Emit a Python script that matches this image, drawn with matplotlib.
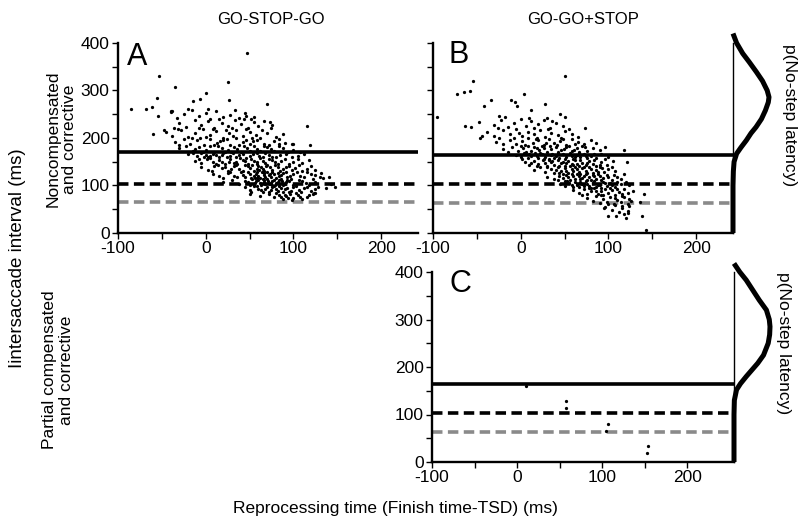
import matplotlib
matplotlib.use("Agg")
import matplotlib.pyplot as plt

plt.rcParams['font.family'] = ['Liberation Sans', 'DejaVu Sans']

# ---------------- data ----------------
col_titles = ["GO-STOP-GO", "GO-GO+STOP"]
row_labels = ["Noncompensated\nand corrective", "Partial compensated\nand corrective"]
panel_letters = ["A", "B", "C"]
x_ticks = [-100, 0, 100, 200]
y_ticks = [0, 100, 200, 300, 400]

# horizontal reference lines (solid, black dashed, grey dashed)
a_lines = [171, 104, 65]
b_lines = [164, 104, 64]
c_lines = [164, 103, 63]

a_points = [
    (-85, 262), (-68, 261), (-61, 265), (-53, 330), (-55, 285), (-35, 307), (-54, 247), (-60, 208),
    (-47, 217), (-40, 257), (-38, 257), (-15, 278), (-6, 282), (0, 295), (25, 318), (27, 281),
    (47, 378), (70, 272), (46, 247), (52, 239), (116, 225), (119, 185), (73, 233), (74, 221),
    (98, 188), (84, 188), (140, 117), (134, 115), (147, 97), (143, 104), (137, 95), (131, 127),
    (-40, 255), (-33, 243), (-25, 250), (-16, 258), (-8, 246), (0, 252), (5, 241), (12, 256),
    (20, 244), (28, 249), (38, 242), (45, 253), (55, 245), (-20, 262), (3, 260), (33, 258),
    (-30, 232), (-22, 224), (-12, 238), (-5, 227), (3, 235), (10, 222), (18, 231), (25, 226),
    (33, 237), (40, 229), (48, 221), (55, 234), (60, 226), (75, 228), (-36, 221), (-8, 220),
    (15, 239), (30, 221), (44, 240), (66, 236),
    (-45, 212), (-38, 205), (-28, 216), (-20, 203), (-12, 210), (-3, 218), (5, 207), (12, 214),
    (20, 201), (27, 211), (35, 217), (42, 204), (50, 213), (57, 207), (64, 216), (80, 203),
    (-32, 219), (-16, 200), (0, 203), (8, 219), (23, 217), (31, 205), (46, 218), (53, 201),
    (70, 210), (88, 208),
    (-35, 192), (-25, 198), (-18, 188), (-10, 195), (-2, 186), (5, 197), (13, 190), (20, 195),
    (28, 186), (35, 199), (42, 191), (50, 188), (58, 196), (66, 187), (78, 193), (90, 190),
    (-30, 186), (-6, 199), (10, 185), (24, 198), (38, 185), (46, 196), (62, 199), (72, 185),
    (84, 198), (100, 187), (16, 193), (54, 193),
    (-30, 178), (-15, 172), (-8, 181), (0, 175), (5, 183), (10, 171), (18, 179), (25, 174),
    (32, 182), (40, 171), (47, 178), (55, 184), (62, 173), (70, 180), (78, 172), (88, 179),
    (100, 175), (108, 170), (-22, 184), (-3, 170), (14, 184), (22, 170), (36, 177), (44, 184),
    (51, 172), (58, 177), (66, 183), (74, 176), (83, 184), (94, 171), (-12, 176), (29, 171),
    (-20, 166), (-10, 162), (-5, 168), (0, 164), (3, 159), (8, 167), (15, 161), (20, 168),
    (28, 163), (35, 160), (42, 166), (50, 162), (58, 169), (65, 160), (72, 165), (80, 161),
    (92, 167), (105, 163), (-2, 160), (12, 165), (24, 159), (31, 168), (38, 164), (46, 158),
    (54, 166), (61, 163), (68, 168), (76, 159), (85, 165), (98, 160), (112, 166), (-14, 169),
    (5, 163), (18, 164),
    (-12, 152), (-5, 147), (2, 155), (8, 149), (15, 153), (22, 146), (28, 156), (35, 150),
    (42, 154), (48, 146), (55, 151), (62, 157), (68, 148), (75, 153), (82, 146), (90, 155),
    (100, 150), (110, 147), (118, 153), (5, 157), (12, 145), (19, 150), (26, 149), (32, 147),
    (39, 157), (45, 151), (52, 155), (58, 145), (65, 152), (72, 156), (79, 149), (86, 152),
    (95, 146), (105, 156), (-8, 156), (58, 150), (36, 145),
    (-5, 138), (3, 133), (10, 142), (18, 136), (25, 131), (32, 140), (38, 134), (45, 143),
    (50, 137), (55, 131), (60, 141), (65, 135), (70, 144), (76, 132), (82, 139), (88, 134),
    (95, 142), (102, 136), (110, 131), (120, 140), (7, 131), (14, 144), (22, 139), (29, 135),
    (35, 144), (42, 130), (48, 140), (53, 144), (58, 134), (63, 139), (67, 130), (73, 138),
    (79, 143), (85, 131), (91, 139), (98, 132), (106, 144), (115, 135), (125, 132), (61, 133),
    (69, 140),
    (8, 124), (15, 119), (25, 127), (32, 121), (40, 128), (45, 117), (50, 125), (55, 120),
    (58, 129), (62, 116), (66, 123), (70, 128), (74, 118), (78, 125), (83, 121), (88, 127),
    (93, 117), (100, 124), (108, 119), (115, 128), (125, 122), (20, 116), (28, 129), (36, 118),
    (43, 123), (48, 129), (52, 116), (57, 124), (60, 120), (64, 128), (68, 117), (72, 122),
    (76, 129), (80, 116), (86, 123), (91, 128), (96, 120), (104, 129), (112, 117), (120, 125),
    (130, 118), (56, 115), (67, 126), (73, 125), (82, 126),
    (20, 108), (30, 112), (38, 104), (45, 110), (50, 102), (53, 113), (56, 106), (60, 111),
    (63, 101), (66, 108), (70, 114), (73, 103), (76, 109), (80, 105), (84, 112), (88, 101),
    (92, 107), (97, 113), (103, 104), (110, 110), (118, 102), (125, 108), (48, 107), (55, 100),
    (58, 115), (62, 105), (65, 113), (68, 104), (71, 109), (75, 100), (78, 112), (82, 107),
    (86, 114), (90, 103), (95, 109), (100, 100), (106, 112), (114, 106), (122, 113), (57, 109),
    (67, 111), (74, 106), (79, 102), (87, 109), (93, 111),
    (45, 96), (50, 90), (55, 98), (60, 93), (65, 87), (70, 96), (74, 91), (78, 99),
    (82, 88), (86, 95), (90, 92), (95, 86), (100, 97), (106, 90), (112, 94), (120, 88),
    (125, 93), (52, 86), (58, 99), (63, 90), (68, 93), (72, 86), (76, 97), (80, 92),
    (84, 98), (88, 87), (93, 95), (97, 89), (103, 99), (109, 86), (116, 96), (123, 85),
    (128, 97),
    (50, 82), (62, 78), (72, 83), (78, 75), (84, 80), (88, 72), (92, 77), (96, 83),
    (100, 73), (105, 79), (110, 71), (115, 76), (122, 82), (80, 84), (90, 81), (98, 70),
    (103, 84), (108, 76), (118, 80), (125, 84), (86, 76), (94, 74),
]

b_points = [
    (-95, 245), (-73, 293), (-65, 297), (-58, 298), (-54, 321), (-64, 226), (-57, 224), (-48, 233),
    (-42, 268), (-34, 279), (-46, 201), (-44, 204), (-25, 246), (-11, 279), (-6, 276), (-4, 267),
    (4, 293), (28, 271), (51, 331), (50, 244), (45, 251), (73, 221), (12, 258), (30, 243),
    (118, 174), (121, 149), (128, 89), (141, 82), (136, 65), (138, 36), (143, 7), (122, 43),
    (120, 32), (109, 35), (100, 36), (95, 52), (115, 57), (123, 57),
    (-30, 228), (-22, 238), (-15, 224), (-8, 232), (0, 240), (6, 226), (12, 235), (20, 229),
    (26, 238), (33, 222), (40, 231), (48, 226), (-18, 244), (9, 243), (36, 236), (15, 221),
    (-26, 221),
    (-38, 213), (-30, 205), (-20, 216), (-12, 208), (-5, 218), (2, 204), (8, 213), (15, 208),
    (22, 217), (28, 203), (35, 211), (42, 206), (50, 215), (58, 209), (65, 202), (-25, 200),
    (-2, 210), (19, 201), (31, 219), (46, 201), (55, 219),
    (-28, 192), (-20, 188), (-12, 196), (-5, 187), (2, 193), (8, 199), (14, 189), (20, 195),
    (26, 186), (32, 197), (38, 190), (45, 194), (52, 186), (58, 198), (65, 191), (72, 187),
    (80, 195), (-8, 199), (5, 186), (17, 197), (29, 190), (41, 185), (48, 198), (62, 187),
    (86, 190),
    (-20, 176), (-10, 181), (-3, 173), (3, 179), (8, 184), (12, 172), (18, 178), (24, 183),
    (30, 171), (35, 177), (40, 182), (46, 174), (52, 180), (58, 172), (64, 178), (70, 184),
    (76, 173), (82, 179), (90, 175), (-14, 171), (0, 184), (6, 170), (15, 182), (21, 174),
    (27, 179), (33, 184), (43, 170), (49, 177), (55, 183), (61, 175), (67, 171), (73, 180),
    (96, 182),
    (-5, 165), (0, 160), (4, 168), (8, 157), (12, 163), (16, 169), (20, 158), (24, 166),
    (28, 161), (32, 156), (36, 167), (40, 162), (44, 157), (48, 166), (52, 160), (56, 168),
    (60, 156), (64, 164), (68, 159), (72, 167), (76, 158), (80, 163), (86, 157), (92, 166),
    (100, 160), (2, 155), (10, 167), (18, 162), (26, 156), (34, 164), (42, 168), (50, 155),
    (58, 163), (66, 169), (74, 162), (84, 167), (96, 155), (22, 169), (38, 158), (62, 161),
    (5, 150), (10, 143), (15, 152), (20, 146), (25, 154), (30, 141), (34, 149), (38, 144),
    (42, 153), (46, 147), (50, 142), (54, 151), (58, 145), (62, 154), (66, 140), (70, 148),
    (74, 143), (78, 152), (82, 146), (86, 141), (92, 150), (98, 144), (105, 152), (12, 148),
    (18, 141), (28, 147), (36, 152), (44, 141), (52, 148), (60, 143), (68, 153), (76, 147),
    (84, 153), (90, 143), (32, 154), (48, 150), (64, 146),
    (15, 133), (22, 138), (28, 128), (34, 135), (38, 126), (42, 139), (46, 131), (50, 136),
    (54, 127), (58, 134), (62, 139), (66, 129), (70, 136), (74, 131), (78, 138), (82, 126),
    (86, 133), (90, 139), (95, 128), (100, 135), (108, 130), (30, 139), (40, 132), (48, 125),
    (56, 140), (60, 130), (64, 135), (68, 125), (72, 139), (76, 127), (80, 134), (88, 128),
    (93, 136), (104, 138), (52, 131), (44, 127),
    (30, 118), (38, 113), (44, 121), (48, 115), (52, 122), (56, 112), (60, 119), (64, 124),
    (68, 114), (72, 120), (75, 111), (78, 117), (82, 123), (86, 113), (90, 120), (94, 115),
    (98, 122), (104, 112), (110, 118), (118, 124), (42, 111), (50, 110), (58, 125), (62, 113),
    (66, 121), (70, 116), (80, 111), (84, 119), (88, 124), (92, 111), (100, 117), (106, 123),
    (114, 113), (54, 118), (74, 124),
    (45, 104), (50, 98), (55, 106), (58, 101), (62, 108), (66, 97), (70, 103), (74, 109),
    (78, 99), (82, 105), (86, 96), (90, 102), (94, 108), (98, 99), (102, 105), (108, 97),
    (114, 103), (120, 108), (53, 109), (60, 96), (64, 102), (68, 107), (72, 98), (76, 104),
    (80, 95), (84, 109), (88, 100), (92, 95), (96, 106), (104, 101), (110, 107), (124, 100),
    (60, 90), (66, 85), (72, 92), (76, 83), (80, 88), (84, 94), (88, 82), (92, 89),
    (96, 93), (100, 84), (104, 90), (108, 81), (112, 87), (118, 93), (122, 84), (70, 81),
    (78, 94), (86, 88), (94, 80), (102, 95), (110, 92), (116, 82),
    (76, 74), (82, 68), (86, 77), (90, 63), (94, 71), (98, 66), (102, 76), (106, 62),
    (110, 70), (114, 65), (118, 75), (122, 61), (126, 68), (92, 79), (100, 60), (108, 73),
    (116, 78), (124, 72),
    (96, 55), (104, 48), (108, 58), (112, 44), (116, 52), (122, 47), (118, 40),
]

c_points = [(11, 160), (58, 128), (57, 113), (107, 81), (105, 65), (154, 34), (153, 18)]

# no-step latency density (drawn sideways), y = latency (ms), p = relative density
b_dens_y = [0, 100, 130, 150, 167, 180, 195, 210, 223, 240, 258, 275, 286, 300, 320, 339, 360, 378, 400, 420]
b_dens_p = [0, 0, 0.01, 0.03, 0.10, 0.22, 0.37, 0.50, 0.64, 0.79, 0.90, 0.98, 1.0, 0.95, 0.82, 0.65, 0.45, 0.27, 0.10, 0]
c_dens_y = [0, 100, 130, 152, 165, 180, 194, 208, 225, 250, 268, 285, 300, 320, 341, 362, 383, 400, 418]
c_dens_p = [0, 0, 0.01, 0.07, 0.18, 0.34, 0.50, 0.66, 0.82, 0.95, 0.99, 1.0, 0.98, 0.9, 0.70, 0.52, 0.34, 0.16, 0]

# ---------------- layout ----------------
W, H = 800, 524
fig = plt.figure(figsize=(W / 100, H / 100), dpi=100)


def rect(l, t, r, b):
    return [l / W, 1 - b / H, (r - l) / W, (b - t) / H]


def ftext(x, y, s, **kw):
    fig.text(x / W, 1 - y / H, s, **kw)


def style_axes(ax, xlim, ylabels=True):
    ax.set_xlim(*xlim)
    ax.set_ylim(0, 400)
    for s in ("top", "right"):
        ax.spines[s].set_visible(False)
    for s in ("left", "bottom"):
        ax.spines[s].set_linewidth(1.7)
    ax.set_xticks(x_ticks)
    ax.set_xticklabels([str(v) for v in x_ticks])
    ax.set_xticks([-50, 50, 150], minor=True)
    ax.set_yticks(y_ticks)
    ax.set_yticks([50, 150, 250, 350], minor=True)
    if ylabels:
        ax.set_yticklabels([str(v) for v in y_ticks])
    else:
        ax.set_yticklabels([])
    ax.tick_params(which="both", direction="out", length=4, width=1.0, labelsize=12.5, pad=2)


def draw_lines(ax, vals, xmax):
    solid, dash, grey = vals
    ax.plot([-100, xmax], [solid, solid], color="black", lw=2.6, solid_capstyle="butt", zorder=2)
    ax.plot([-100, xmax], [dash, dash], color="black", lw=2.6, linestyle=(0, (2.9, 1.5)), zorder=2)
    ax.plot([-100, xmax], [grey, grey], color="#8a8a8a", lw=2.6, linestyle=(0, (2.9, 1.5)), zorder=2)


def draw_points(ax, pts):
    xs = [p[0] for p in pts]
    ys = [p[1] for p in pts]
    ax.scatter(xs, ys, s=5.5, color="black", linewidths=0, zorder=3, clip_on=False)


def draw_density(rect_px, ys, ps):
    dax = fig.add_axes(rect(*rect_px))
    dax.set_xlim(0, 1.25)
    dax.set_ylim(0, 400)
    for s in ("top", "right", "bottom"):
        dax.spines[s].set_visible(False)
    dax.spines["left"].set_linewidth(1.0)
    dax.set_xticks([])
    dax.set_yticks([])
    dax.patch.set_alpha(0)
    dax.plot(ps, ys, color="black", lw=3.6, clip_on=False, solid_capstyle="butt")
    return dax


# Panel A
axA = fig.add_axes(rect(118, 43, 418, 233))
style_axes(axA, (-100, 242))
draw_lines(axA, a_lines, 242)
draw_points(axA, a_points)

# Panel B
axB = fig.add_axes(rect(433, 43, 733, 233))
style_axes(axB, (-100, 242), ylabels=False)
draw_lines(axB, b_lines, 242)
draw_points(axB, b_points)
draw_density((733, 43, 778, 233), b_dens_y, b_dens_p)

# Panel C
axC = fig.add_axes(rect(432, 272, 734, 462))
style_axes(axC, (-100, 255))
draw_lines(axC, c_lines, 255)
draw_points(axC, c_points)
draw_density((734, 272, 779, 462), c_dens_y, c_dens_p)

# Panel letters
ftext(137, 57, panel_letters[0], fontsize=22, ha="center", va="center")
ftext(459, 55, panel_letters[1], fontsize=22, ha="center", va="center")
ftext(460, 284, panel_letters[2], fontsize=22, ha="center", va="center")

# Column titles
ftext(271, 20, col_titles[0], fontsize=12, ha="center", va="center")
ftext(583, 20, col_titles[1], fontsize=12, ha="center", va="center")

# Row labels
ftext(61, 139, row_labels[0], fontsize=12.5, ha="center", va="center", rotation=90,
      multialignment="center", linespacing=1.1)
ftext(58, 370, row_labels[1], fontsize=12.5, ha="center", va="center", rotation=90,
      multialignment="center", linespacing=1.1)

# Axis titles
ftext(18, 258, "Iintersaccade interval (ms)", fontsize=13.5, ha="center", va="center", rotation=90)
ftext(395, 508, "Reprocessing time (Finish time-TSD) (ms)", fontsize=12.5, ha="center", va="center")
ftext(789, 115, "p(No-step latency)", fontsize=12.5, ha="center", va="center", rotation=270)
ftext(783, 343, "p(No-step latency)", fontsize=12.5, ha="center", va="center", rotation=270)

fig.savefig("out.png", dpi=100)
